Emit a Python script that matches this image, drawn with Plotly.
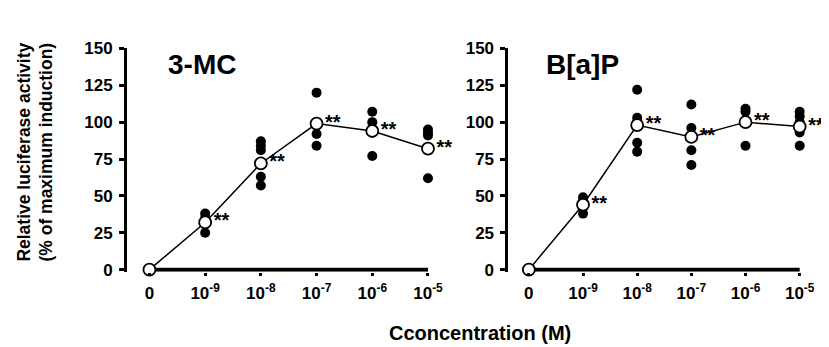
import plotly.graph_objects as go

# ---- data ----
tick_labels = ["0", "10<sup>-9</sup>", "10<sup>-8</sup>", "10<sup>-7</sup>", "10<sup>-6</sup>", "10<sup>-5</sup>"]
x_pos = [0, 1, 2, 3, 4, 5]

mc_mean = [0, 32, 72, 99, 94, 82]
mc_ind_x = [1, 1, 1, 2, 2, 2, 2, 2, 3, 3, 3, 4, 4, 4, 5, 5, 5, 5]
mc_ind_y = [38, 35, 25, 87, 84, 81, 63, 57, 120, 92, 84, 107, 100, 77, 95, 93, 91, 62]

bap_mean = [0, 44, 98, 90, 100, 97]
bap_ind_x = [1, 1, 1, 2, 2, 2, 2, 2, 3, 3, 3, 3, 4, 4, 4, 4, 5, 5, 5, 5, 5]
bap_ind_y = [49, 46, 38, 122, 103, 100, 86, 80, 112, 96, 81, 71, 109, 107, 101, 84, 107, 104, 100, 93, 84]

stars = ["", "**", "**", "**", "**", "**"]
y_ticks = [0, 25, 50, 75, 100, 125, 150]

FONT = "Liberation Sans, Arial, Helvetica, sans-serif"
W, H = 829, 347

fig = go.Figure()

def add_panel(xa, ya, ind_x, ind_y, mean):
    # baseline from the first to the last category
    fig.add_trace(go.Scatter(x=[x_pos[0], x_pos[-1]], y=[y_ticks[0], y_ticks[0]], mode="lines",
                             line=dict(color="black", width=4), xaxis=xa, yaxis=ya,
                             hoverinfo="skip", showlegend=False))
    fig.add_trace(go.Scatter(x=ind_x, y=ind_y, mode="markers",
                             marker=dict(color="black", size=10), xaxis=xa, yaxis=ya,
                             showlegend=False, cliponaxis=False))
    fig.add_trace(go.Scatter(x=x_pos, y=mean, mode="lines+markers+text",
                             line=dict(color="black", width=1.5),
                             marker=dict(color="white", size=12, line=dict(color="black", width=1.8)),
                             text=stars, textposition="middle right",
                             textfont=dict(family=FONT, size=20, color="black", weight="bold"),
                             xaxis=xa, yaxis=ya, showlegend=False, cliponaxis=False))

add_panel("x", "y", mc_ind_x, mc_ind_y, mc_mean)
add_panel("x2", "y2", bap_ind_x, bap_ind_y, bap_mean)

tickfont = dict(family=FONT, size=17, color="black", weight="bold")

def xaxis(domain, anchor):
    return dict(domain=domain, range=[-0.05, 5.05], anchor=anchor, tickvals=x_pos,
                ticktext=tick_labels, showline=False,
                showgrid=False, zeroline=False, ticks="outside", ticklen=3,
                tickwidth=3, tickcolor="black", tickfont=tickfont, ticklabelstandoff=3)

def yaxis(pos):
    return dict(domain=[79 / H, 1 - 33 / H], range=[-1.5, 150], anchor="free", position=pos,
                tickvals=y_ticks, showline=True, linecolor="black", linewidth=3,
                showgrid=False, zeroline=False, ticks="outside", ticklen=5, tickwidth=3,
                tickcolor="black", tickfont=tickfont, ticklabelstandoff=3)

fig.update_layout(
    width=W, height=H, margin=dict(l=0, r=0, t=0, b=0),
    plot_bgcolor="white", paper_bgcolor="white",
    xaxis=xaxis([139 / W, 428 / W], "y"),
    yaxis=yaxis(117 / W),
    xaxis2=xaxis([525 / W, 806 / W], "y2"),
    yaxis2=yaxis(505 / W),
    font=dict(family=FONT, color="black"),
)

fig.add_annotation(text="3-MC", x=195 / W, y=1 - 50 / H, xref="paper", yref="paper",
                   xanchor="center", yanchor="middle", showarrow=False,
                   font=dict(family=FONT, size=28, color="black", weight="bold"))
fig.add_annotation(text="B[a]P", x=582 / W, y=1 - 50 / H, xref="paper", yref="paper",
                   xanchor="center", yanchor="middle", showarrow=False,
                   font=dict(family=FONT, size=28, color="black", weight="bold"))
fig.add_annotation(text="Relative luciferase activity<br>(% of maximum induction)",
                   x=25 / W, y=1 - 142 / H, xref="paper", yref="paper", textangle=-90,
                   xanchor="center", yanchor="middle", showarrow=False,
                   font=dict(family=FONT, size=17.5, color="black", weight="bold"))
fig.add_annotation(text="Cconcentration (M)", x=478 / W, y=1 - 332 / H, xref="paper", yref="paper",
                   xanchor="center", yanchor="middle", showarrow=False,
                   font=dict(family=FONT, size=20, color="black", weight="bold"))

fig.write_html("out.html")
